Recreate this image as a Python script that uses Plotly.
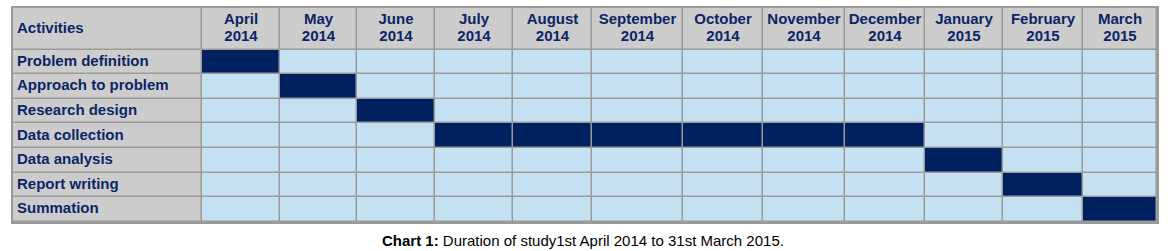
import plotly.graph_objects as go

# ---------------- data ----------------
activities = ["Problem definition", "Approach to problem", "Research design",
              "Data collection", "Data analysis", "Report writing", "Summation"]
month_names = ["April", "May", "June", "July", "August", "September", "October",
               "November", "December", "January", "February", "March"]
month_years = ["2014", "2014", "2014", "2014", "2014", "2014", "2014",
               "2014", "2014", "2015", "2015", "2015"]
start_month = [0, 1, 2, 3, 9, 10, 11]   # index into months
duration = [1, 1, 1, 6, 1, 1, 1]        # months
header_label = "Activities"
caption_bold = "Chart 1:"
caption_text = " Duration of study1st April 2014 to 31st March 2015."

# ---------------- layout constants ----------------
W, H = 1176, 251
ML, MR, MT, MB = 13, 19, 6, 29
col_widths = [189, 78, 77, 78, 78, 79, 91, 80, 82, 80, 78, 80, 74]
header_h = 42
table_h = H - MT - MB
row_h = (table_h - header_h) / len(activities)

NAVY_TXT = "#0B2566"
DARK = "#00205F"
LIGHT = "#C4E0F1"
GRAY = "#CCCCCC"
BORDER = "#9A9A9A"
FONT = "Liberation Sans, Arial, sans-serif"

x_edges = [0]
for w in col_widths:
    x_edges.append(x_edges[-1] + w)
y_edges = [0, header_h] + [header_h + row_h * (i + 1) for i in range(len(activities))]

# z matrix: 2 = header/label grey, 1 = active, 0 = idle
ncols = len(col_widths)
z = [[2] * ncols]
for a in range(len(activities)):
    row = [2]
    for m in range(len(month_names)):
        row.append(1 if start_month[a] <= m < start_month[a] + duration[a] else 0)
    z.append(row)

colorscale = [[0, LIGHT], [0.25, LIGHT], [0.25, DARK], [0.75, DARK], [0.75, GRAY], [1, GRAY]]

fig = go.Figure()
fig.add_trace(go.Heatmap(
    z=z, x=x_edges, y=y_edges, zmin=0, zmax=2, colorscale=colorscale,
    showscale=False, xgap=1.5, ygap=1.5, hoverinfo="skip"))

x_centers = [(x_edges[i] + x_edges[i + 1]) / 2 for i in range(1, ncols)]
y_centers = [(y_edges[i] + y_edges[i + 1]) / 2 for i in range(1, len(y_edges) - 1)]

tf = dict(family=FONT, size=15, color=NAVY_TXT)

# activity labels (first column, left aligned)
fig.add_trace(go.Scatter(
    x=[4] * (len(activities) + 1),
    y=[header_h / 2] + y_centers,
    text=["<b>%s</b>" % header_label] + ["<b>%s</b>" % a for a in activities],
    mode="text", textposition="middle right", textfont=tf, hoverinfo="skip"))

# month header, two lines
fig.add_trace(go.Scatter(
    x=x_centers, y=[header_h / 2 - 8.5] * len(month_names),
    text=["<b>%s</b>" % m for m in month_names],
    mode="text", textposition="middle center", textfont=tf, hoverinfo="skip"))
fig.add_trace(go.Scatter(
    x=x_centers, y=[header_h / 2 + 9] * len(month_years),
    text=["<b>%s</b>" % y for y in month_years],
    mode="text", textposition="middle center", textfont=tf, hoverinfo="skip"))

fig.add_annotation(
    x=0.5, y=0, xref="paper", yref="paper", xanchor="center", yanchor="middle",
    xshift=-2, yshift=-18, showarrow=False,
    text="<b>%s</b>%s" % (caption_bold, caption_text),
    font=dict(family=FONT, size=15, color="#000000"))

fig.update_xaxes(range=[0, x_edges[-1]], showgrid=False, zeroline=False,
                 showticklabels=False, ticks="", showline=True, mirror=True,
                 linecolor=BORDER, linewidth=1.5)
fig.update_yaxes(range=[y_edges[-1], 0], showgrid=False, zeroline=False,
                 showticklabels=False, ticks="", showline=True, mirror=True,
                 linecolor=BORDER, linewidth=1.5)

fig.update_layout(
    width=W, height=H, margin=dict(l=ML, r=MR, t=MT, b=MB, pad=0),
    plot_bgcolor=BORDER, paper_bgcolor="white", showlegend=False)

fig.write_html("out.html", config={"displayModeBar": False},
               post_script="document.body.style.margin='0';document.body.style.overflow='hidden';")
